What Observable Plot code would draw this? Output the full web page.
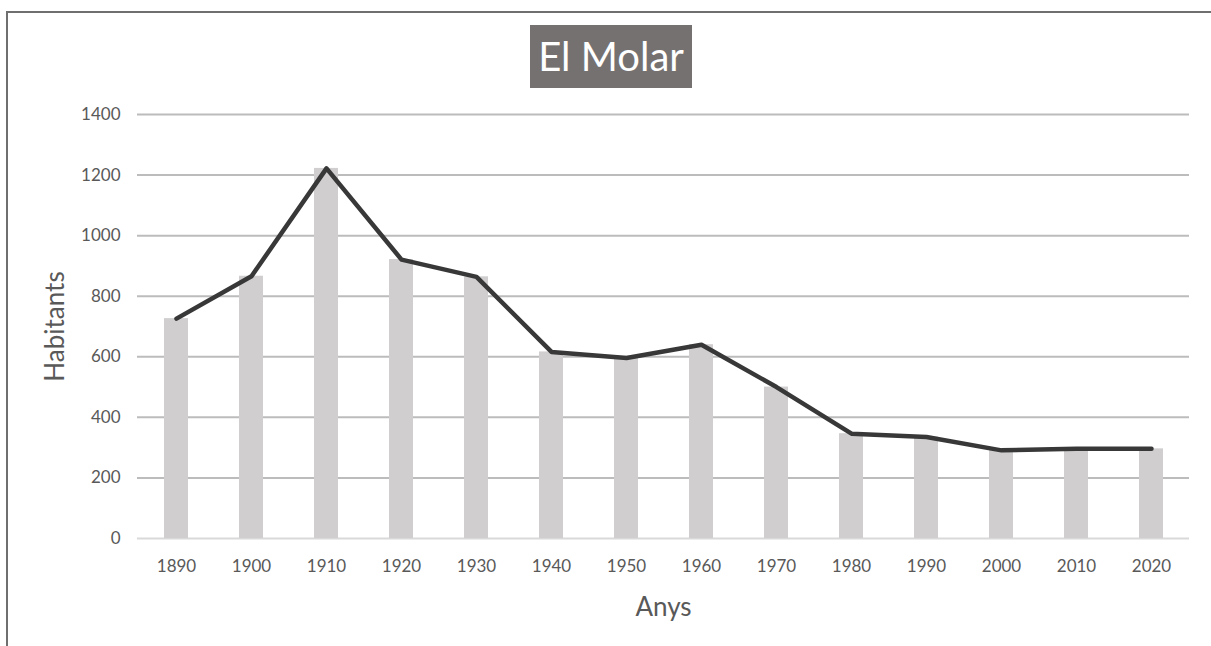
<!DOCTYPE html>
<html>
<head>
<meta charset="utf-8">
<script src="https://cdn.jsdelivr.net/npm/d3@7"></script>
<script src="https://cdn.jsdelivr.net/npm/@observablehq/plot@0.6"></script>
<style>
  html, body { margin: 0; padding: 0; background: #fff; }
  #wrap { position: relative; width: 1211px; height: 646px; overflow: hidden; font-family: Lato, "Open Sans", sans-serif; }
  #frame { position: absolute; left: 6px; top: 11px; width: 1220px; height: 700px; border-left: 2px solid #6f6f6f; border-top: 2px solid #6f6f6f; box-sizing: border-box; }
  #title { position: absolute; left: 530px; top: 25px; width: 162px; height: 63px; background: #767171; color: #fff; font-size: 40px; line-height: 63px; text-align: center; font-family: Lato, "Open Sans", sans-serif; }
  #chart { position: absolute; left: 0; top: 0; }
</style>
</head>
<body>
<div id="wrap">
  <div id="chart"></div>
  <div id="frame"></div>
  <div id="title">El Molar</div>
</div>
<script>
const years = ["1890","1900","1910","1920","1930","1940","1950","1960","1970","1980","1990","2000","2010","2020"];
const population = [726, 866, 1222, 921, 864, 616, 596, 640, 500, 346, 335, 291, 296, 296];
const yTicks = [0, 200, 400, 600, 800, 1000, 1200, 1400];
const gridTicks = [200, 400, 600, 800, 1000, 1200, 1400];

const data = years.map((y, i) => ({year: y, value: population[i]}));

const chart = Plot.plot({
  width: 1211,
  height: 646,
  marginLeft: 137,
  marginRight: 22,
  marginTop: 114,
  marginBottom: 108,
  style: {fontFamily: "Lato, 'Open Sans', sans-serif", background: "transparent"},
  x: {domain: years, paddingInner: 0.68, paddingOuter: 0.34, label: null},
  y: {domain: [0, 1400], label: null},
  marks: [
    Plot.ruleY(gridTicks, {stroke: "#bcbcbc", strokeWidth: 2}),
    Plot.ruleY([0], {stroke: "#d9d9d9", strokeWidth: 2}),
    Plot.barY(data, {x: "year", y: "value", fill: "#d0cece"}),
    Plot.line(data, {x: "year", y: "value", stroke: "#383838", strokeWidth: 4.5, strokeLinejoin: "round", strokeLinecap: "round"}),
    Plot.axisY(yTicks, {tickSize: 0, tickPadding: 17, fontSize: 17, color: "#595959", label: null, tickFormat: d => String(d)}),
    Plot.axisX({tickSize: 0, tickPadding: 21, fontSize: 17, color: "#595959", label: null}),
    Plot.text(["Habitants"], {frameAnchor: "left", dx: -82, rotate: -90, textAnchor: "middle", lineAnchor: "middle", fontSize: 26, fill: "#595959"}),
    Plot.text(["Anys"], {frameAnchor: "bottom", dy: 69, textAnchor: "middle", lineAnchor: "middle", fontSize: 26, fill: "#595959"})
  ]
});
document.getElementById("chart").appendChild(chart);
</script>
</body>
</html>
